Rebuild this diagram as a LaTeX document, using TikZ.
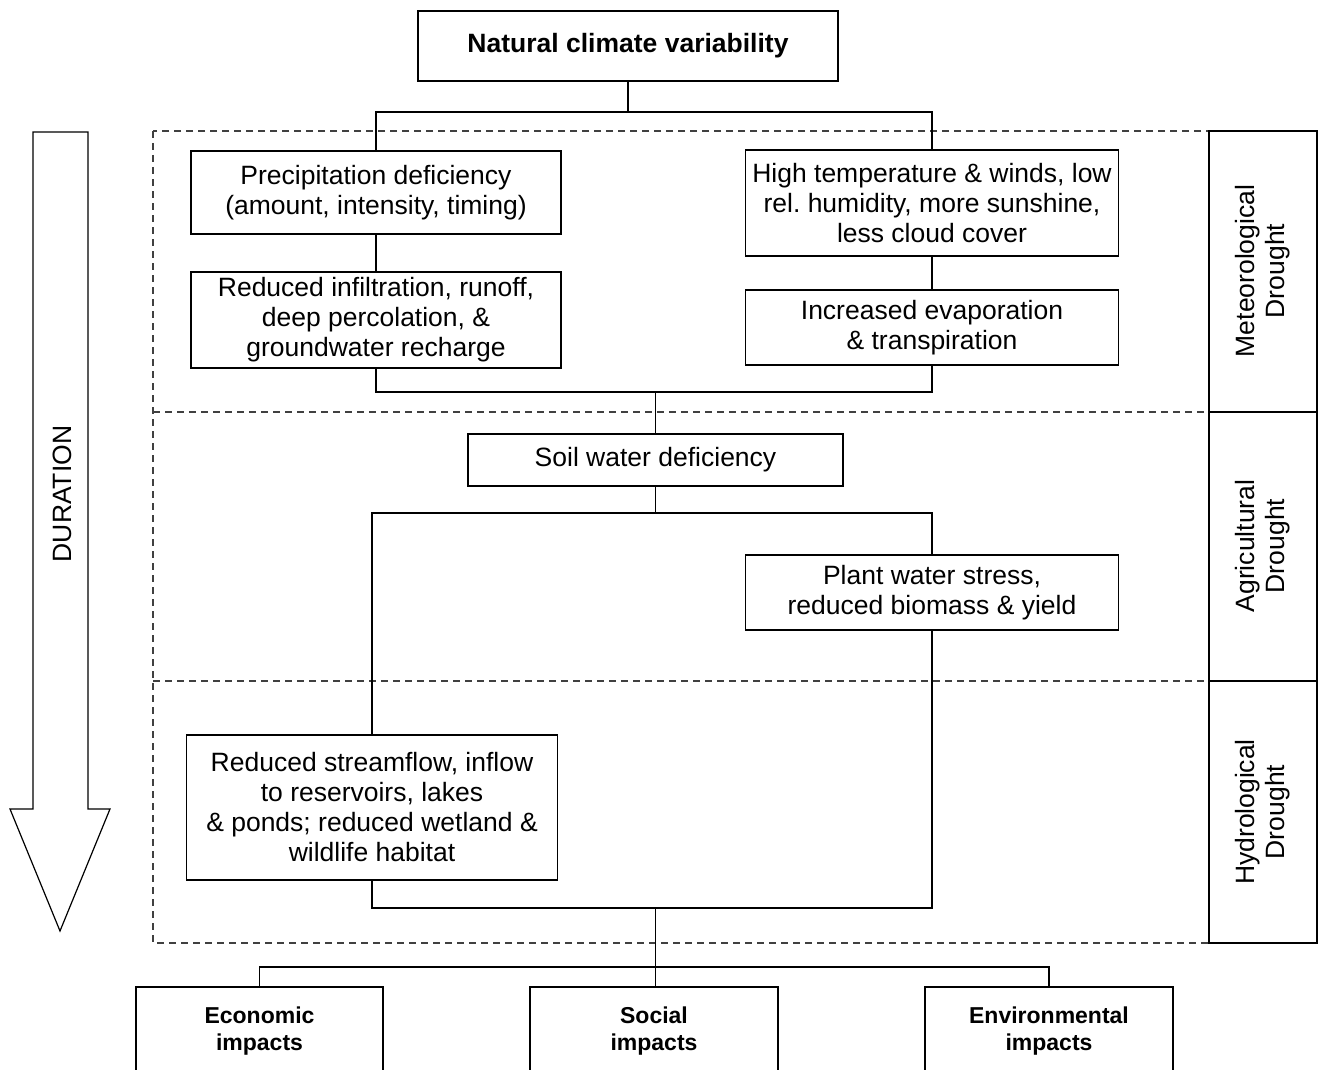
\documentclass[tikz,border=0pt]{standalone}
\usepackage{fontspec}
\setmainfont{Liberation Sans}
\begin{document}
\frenchspacing
\begin{tikzpicture}[x=1pt,y=-1pt,
  box/.style={draw, line width=1.2pt, align=center, inner sep=0pt, font=\fontsize{26.5}{30}\selectfont},
  bbox/.style={box, font=\fontsize{26.5}{30}\selectfont\bfseries},
  conn/.style={line width=1.2pt},
  zone/.style={dashed, dash pattern=on 7pt off 5pt, line width=1.1pt, black!75},
  panel/.style={line width=1.6pt},
  lab/.style={rotate=90, align=center, inner sep=0pt, font=\fontsize{26.5}{30}\selectfont}]
\useasboundingbox (0,0) rectangle (1320,1070);
\clip (0,0) rectangle (1320,1070);

% zones
\draw[zone] (153,131) rectangle (1209,943);
\draw[zone] (153,412) -- (1209,412);
\draw[zone] (153,681) -- (1209,681);

% right panel
\draw[panel] (1209,131) rectangle (1317,943);
\draw[panel] (1209,412) -- (1317,412);
\draw[panel] (1209,681) -- (1317,681);
\node[lab] (met) at (1263,271) {Meteorological\\Drought};
\node[lab] (agr) at (1263,546) {Agricultural\\Drought};
\node[lab] (hyd) at (1263,812) {Hydrological\\Drought};

% duration arrow
\draw[line width=1.2pt] (33,132) -- (88,132) -- (88,809) -- (110,809) -- (60,931) -- (10,809) -- (33,809) -- cycle;
\node[lab] (dur) at (62,494) {DURATION};

% boxes
\node[bbox, minimum width=420pt, minimum height=70pt] (ncv) at (628,46) {Natural climate variability};
\node[box, minimum width=370pt, minimum height=83pt] (prec) at (376,192.5) {Precipitation deficiency\\(amount, intensity, timing)};
\node[box, minimum width=370pt, minimum height=96pt] (infil) at (376,320) {Reduced infiltration, runoff,\\deep percolation, \&\\groundwater recharge};
\node[box, minimum width=373pt, minimum height=106pt] (high) at (932,203) {High temperature \& winds, low\\rel. humidity, more sunshine,\\less cloud cover};
\node[box, minimum width=373pt, minimum height=75pt] (evap) at (932,327.5) {Increased evaporation\\\& transpiration};
\node[box, minimum width=375pt, minimum height=52pt] (soil) at (655.5,460) {Soil water deficiency};
\node[box, minimum width=373pt, minimum height=75pt] (plant) at (932,592.5) {Plant water stress,\\reduced biomass \& yield};
\node[box, minimum width=371pt, minimum height=145pt] (stream) at (372,807.5) {Reduced streamflow, inflow\\to reservoirs, lakes\\\& ponds; reduced wetland \&\\wildlife habitat};

\node[box, minimum width=247pt, minimum height=120pt] (econ) at (259.5,1047) {};
\node[box, minimum width=248pt, minimum height=120pt] (social) at (654,1047) {};
\node[box, minimum width=248pt, minimum height=120pt] (env) at (1049,1047) {};
\node[align=center, inner sep=0pt, font=\fontsize{23}{27}\selectfont\bfseries] (econt) at (259.5,1031) {Economic\\impacts};
\node[align=center, inner sep=0pt, font=\fontsize{23}{27}\selectfont\bfseries] (sociat) at (654,1031) {Social\\impacts};
\node[align=center, inner sep=0pt, font=\fontsize{23}{27}\selectfont\bfseries] (envt) at (1049,1031) {Environmental\\impacts};

% connectors
\coordinate (j1) at (628,112);
\coordinate (j2) at (655.5,392);
\coordinate (j3) at (655.5,513);
\coordinate (j4) at (655.5,908);
\coordinate (j5) at (654,967);
\draw[conn] (ncv.south) -- (j1);
\draw[conn] (prec.north) -- (prec.north |- j1) -- (high.north |- j1) -- (high.north);
\draw[conn] (prec.south) -- (infil.north);
\draw[conn] (high.south) -- (evap.north);
\draw[conn] (infil.south) -- (infil.south |- j2) -- (evap.south |- j2) -- (evap.south);
\draw[conn] (j2) -- (soil.north);
\draw[conn] (soil.south) -- (j3);
\draw[conn] (stream.north) -- (stream.north |- j3) -- (plant.north |- j3) -- (plant.north);
\draw[conn] (stream.south) -- (stream.south |- j4) -- (plant.south |- j4) -- (plant.south);
\draw[conn] (j4) -- (j4 |- social.north);
\draw[conn] (econ.north) -- (econ.north |- j5) -- (env.north |- j5) -- (env.north);
\end{tikzpicture}
\end{document}
